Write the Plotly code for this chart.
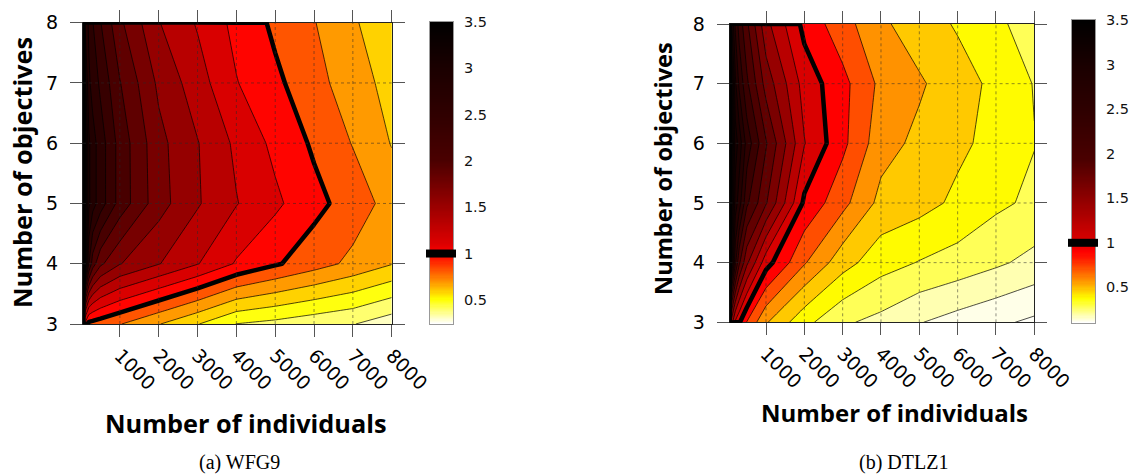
import numpy as np
import plotly.graph_objects as go

W, H = 1135, 475

# ---------------- data ----------------
x_individuals = [50, 100, 200, 300, 500, 1000, 2000, 3000, 4000, 5000, 6000, 7000, 8000]
y_objectives = [3, 4, 5, 6, 7, 8]

# rows: objectives 3..8, columns: individuals as above
wfg9_z = [
    [3.5, 1.08, 0.97, 0.965, 0.95, 0.905, 0.805, 0.705, 0.598, 0.57, 0.535, 0.505, 0.44],
    [3.5, 2.21, 1.805, 1.65, 1.52, 1.405, 1.305, 1.205, 1.09, 1.012, 0.944, 0.875, 0.805],
    [3.5, 2.31, 2.02, 1.94, 1.85, 1.66, 1.44, 1.31, 1.205, 1.12, 1.03, 0.955, 0.86],
    [3.5, 2.31, 2.02, 1.94, 1.85, 1.66, 1.43, 1.305, 1.18, 1.075, 0.985, 0.895, 0.795],
    [3.5, 2.15, 1.92, 1.86, 1.78, 1.605, 1.38, 1.245, 1.105, 1.02, 0.94, 0.84, 0.77],
    [3.5, 1.995, 1.88, 1.805, 1.705, 1.52, 1.305, 1.19, 1.07, 0.98, 0.905, 0.81, 0.745],
]
dtlz1_z = [
    [3.5, 1.25, 1.08, 1.012, 0.895, 0.71, 0.53, 0.415, 0.37, 0.305, 0.26, 0.22, 0.18],
    [3.5, 2.05, 1.72, 1.52, 1.32, 1.04, 0.81, 0.64, 0.54, 0.495, 0.46, 0.417, 0.37],
    [3.5, 2.25, 1.95, 1.85, 1.62, 1.41, 0.98, 0.83, 0.67, 0.635, 0.58, 0.52, 0.48],
    [3.5, 2.35, 2.05, 1.96, 1.76, 1.51, 1.105, 0.925, 0.74, 0.675, 0.62, 0.57, 0.503],
    [3.5, 2.25, 1.92, 1.78, 1.62, 1.36, 1.06, 0.93, 0.776, 0.714, 0.64, 0.577, 0.495],
    [3.5, 2.02, 1.78, 1.66, 1.52, 1.23, 0.97, 0.84, 0.72, 0.645, 0.59, 0.52, 0.455],
]
wfg9_range = [0.24, 3.5]
dtlz1_range = [0.1, 3.5]
highlight_level = 1.0

x_tick_vals = [1000, 2000, 3000, 4000, 5000, 6000, 7000, 8000]
x_tick_text = ["1000", "2000", "3000", "4000", "5000", "6000", "7000", "8000"]
y_tick_vals = [3, 4, 5, 6, 7, 8]
cb_tick_vals = [0.5, 1, 1.5, 2, 2.5, 3, 3.5]
cb_tick_text = ["0.5", "1", "1.5", "2", "2.5", "3", "3.5"]

x_title = "Number of individuals"
y_title = "Number of objectives"
captions = ["(a) WFG9", "(b) DTLZ1"]

lev_start, lev_end, lev_step = 0.1, 3.4, 0.1

# ---------------- styling helpers ----------------
BAND_PALETTE = [(0.0, '#ffffff'), (0.044, '#ffffe8'), (0.074, '#ffffb0'), (0.10, '#ffff60'),
                (0.13, '#ffff00'), (0.16, '#ffcc00'), (0.19, '#ff9500'), (0.22, '#ff5000'),
                (0.25, '#ff0000'), (0.28, '#d80000'), (0.31, '#b80000'), (0.34, '#950000'),
                (0.37, '#780000'), (0.40, '#600000'), (0.43, '#4a0000'), (0.46, '#380000'),
                (0.50, '#280000'), (0.55, '#1a0000'), (0.65, '#0c0000'), (1.0, '#000000')]
CB_PALETTE = [(0.0, '#ffffff'), (0.08, '#ffff00'), (0.14, '#ff9000'), (0.215, '#ff1500'),
              (0.235, '#ff0000'), (0.26, '#e00000'), (0.39, '#990000'), (0.54, '#4a0000'),
              (0.69, '#300000'), (0.85, '#1a0000'), (1.0, '#000000')]


def hex_rgb(h):
    return tuple(int(h[i:i + 2], 16) for i in (1, 3, 5))


def pal(stops, f):
    f = min(max(f, 0.0), 1.0)
    for (f0, c0), (f1, c1) in zip(stops[:-1], stops[1:]):
        if f <= f1:
            t = 0 if f1 == f0 else (f - f0) / (f1 - f0)
            a, b = hex_rgb(c0), hex_rgb(c1)
            return 'rgb(%d,%d,%d)' % tuple(round(a[i] + (b[i] - a[i]) * t) for i in range(3))
    return stops[-1][1]


n_lev = int(round((lev_end - lev_start) / lev_step)) + 1


def band_colorscale(vr):
    vmin, vmax = vr
    cs = []
    for j in range(n_lev + 1):
        mid = lev_start + (j - 0.5) * lev_step
        cs.append([j / n_lev, pal(BAND_PALETTE, (mid - vmin) / (vmax - vmin))])
    return cs


cb_colorscale = [[f, c] for f, c in CB_PALETTE]


def padded(z):
    xs = [x_individuals[0] - 1] + x_individuals + [x_individuals[-1] + 1]
    ys = [y_objectives[0] - 0.01] + y_objectives + [y_objectives[-1] + 0.01]
    zz = [[0.0] * len(xs)]
    for row in z:
        zz.append([0.0] + list(row) + [0.0])
    zz.append([0.0] * len(xs))
    return xs, ys, zz


# ---------------- geometry (pixels) ----------------
panels = [
    dict(z=wfg9_z, vr=wfg9_range, px=(83, 391.7), py=(324, 22.7), cbx=(430, 453), cby=(324, 21.7),
         xt=(245, 423), yt=(22, 173), cap=239, xts=25.3, yts=25.3),
    dict(z=dtlz1_z, vr=dtlz1_range, px=(729.6, 1034.3), py=(322.3, 24), cbx=(1072, 1095), cby=(323, 20),
         xt=(894.5, 412.5), yt=(662.5, 168.5), cap=903.5, xts=24, yts=23.6),
]

fig = go.Figure()
layout = dict(width=W, height=H, autosize=False,
              margin=dict(l=0, r=0, t=0, b=0, pad=0, autoexpand=False),
              paper_bgcolor='white', plot_bgcolor='rgba(0,0,0,0)', showlegend=False)
shapes, annotations = [], []

xr = [x_individuals[0], x_individuals[-1]]
yr = [y_objectives[0], y_objectives[-1]]
tickfont = dict(family='DejaVu Sans', size=19, color='black')

for k, p in enumerate(panels):
    n = 3 * k
    ax_main, ax_ovl, ax_cb = n + 1, n + 2, n + 3
    def nm(i):
        return '' if i == 1 else str(i)
    xd = [p['px'][0] / W, p['px'][1] / W]
    yd = [(H - p['py'][0]) / H, (H - p['py'][1]) / H]

    # filled contours
    fig.add_trace(go.Contour(
        x=x_individuals, y=y_objectives, z=p['z'], autocontour=False,
        contours=dict(start=lev_start, end=lev_end + 0.005, size=lev_step, coloring='fill', showlines=True),
        line=dict(color='black', width=0.7, smoothing=0),
        colorscale=band_colorscale(p['vr']), showscale=False, hoverinfo='skip',
        xaxis='x' + nm(ax_main), yaxis='y' + nm(ax_main)))

    # thick level-1 boundary on an overlay subplot (not clipped at borders)
    xs, ys, zz = padded(p['z'])
    ext = 8.0
    xppu = (xd[1] - xd[0]) * W / (xr[1] - xr[0])
    yppu = (yd[1] - yd[0]) * H / (yr[1] - yr[0])
    fig.add_trace(go.Contour(
        x=xs, y=ys, z=zz, autocontour=False,
        contours=dict(start=highlight_level, end=highlight_level, size=1, coloring='none', showlines=True),
        line=dict(color='black', width=4.5, smoothing=0), showscale=False, hoverinfo='skip',
        xaxis='x' + nm(ax_ovl), yaxis='y' + nm(ax_ovl)))

    # colour bar
    vmin, vmax = p['vr']
    vals = np.linspace(vmin, vmax, 260)
    fig.add_trace(go.Heatmap(z=[[v] for v in vals], x=[0.5], y=vals, colorscale=cb_colorscale,
                             zmin=vmin, zmax=vmax, showscale=False, hoverinfo='skip',
                             xaxis='x' + nm(ax_cb), yaxis='y' + nm(ax_cb)))

    layout['xaxis' + nm(ax_main)] = dict(
        domain=xd, range=xr, anchor='y' + nm(ax_main), tickvals=x_tick_vals, ticktext=x_tick_text,
        tickangle=45, ticks='outside', ticklen=12, tickwidth=1, tickcolor='#555', mirror='ticks',
        showline=True, linecolor='#222', linewidth=1, showgrid=False, zeroline=False,
        tickfont=tickfont, layer='above traces', automargin=False)
    layout['yaxis' + nm(ax_main)] = dict(
        domain=yd, range=yr, anchor='x' + nm(ax_main), tickvals=y_tick_vals,
        ticks='outside', ticklen=12, tickwidth=1, tickcolor='#555', mirror='ticks',
        showline=True, linecolor='#222', linewidth=1, showgrid=False, zeroline=False,
        tickfont=tickfont, ticklabelstandoff=8, layer='above traces', automargin=False)

    exd = ext / W
    eyd = ext / H
    layout['xaxis' + nm(ax_ovl)] = dict(
        domain=[xd[0] - exd, xd[1] + exd], range=[xr[0] - ext / xppu, xr[1] + ext / xppu],
        anchor='y' + nm(ax_ovl), visible=False, automargin=False)
    layout['yaxis' + nm(ax_ovl)] = dict(
        domain=[yd[0] - eyd, yd[1] + eyd], range=[yr[0] - ext / yppu, yr[1] + ext / yppu],
        anchor='x' + nm(ax_ovl), visible=False, automargin=False)

    cxd = [p['cbx'][0] / W, p['cbx'][1] / W]
    cyd = [(H - p['cby'][0]) / H, (H - p['cby'][1]) / H]
    layout['xaxis' + nm(ax_cb)] = dict(domain=cxd, range=[0, 1], anchor='y' + nm(ax_cb),
                                       showticklabels=False, ticks='', showgrid=False, zeroline=False,
                                       showline=True, mirror=True, linecolor='#999', linewidth=1,
                                       automargin=False)
    layout['yaxis' + nm(ax_cb)] = dict(domain=cyd, range=[vmin, vmax], anchor='x' + nm(ax_cb), side='right',
                                       tickvals=cb_tick_vals, ticktext=cb_tick_text, ticks='outside',
                                       ticklen=7, tickcolor='rgba(0,0,0,0)', showgrid=False, zeroline=False,
                                       showline=True, mirror=True, linecolor='#999', linewidth=1,
                                       tickfont=dict(family='DejaVu Sans', size=14.5, color='#111'),
                                       automargin=False)

    # marker of the highlighted level on the colour bar
    yc = cyd[0] + (highlight_level - vmin) / (vmax - vmin) * (cyd[1] - cyd[0])
    shapes.append(dict(type='rect', xref='paper', yref='paper', x0=cxd[0] - 4 / W, x1=cxd[1] + 3 / W,
                       y0=yc - 4 / H, y1=yc + 4 / H, fillcolor='black', line=dict(width=0), layer='above'))

    # dashed grid on top of the fills
    grid_line = dict(color='rgba(40,40,40,0.65)', width=0.8, dash='3px,3px')
    for xv in x_tick_vals[:-1]:
        shapes.append(dict(type='line', xref='x' + nm(ax_main), yref='y' + nm(ax_main) + ' domain',
                           x0=xv, x1=xv, y0=0, y1=1, line=grid_line, layer='above'))
    for yv in y_tick_vals[1:-1]:
        shapes.append(dict(type='line', xref='x' + nm(ax_main) + ' domain', yref='y' + nm(ax_main),
                           x0=0, x1=1, y0=yv, y1=yv, line=grid_line, layer='above'))

    annotations.append(dict(text=x_title, xref='paper', yref='paper', x=p['xt'][0] / W,
                            y=(H - p['xt'][1]) / H, xanchor='center', yanchor='middle',
                            showarrow=False,
                            font=dict(family='Open Sans', size=p['xts'], color='black', weight='bold')))
    annotations.append(dict(text=y_title, xref='paper', yref='paper', x=p['yt'][0] / W,
                            y=(H - p['yt'][1]) / H, xanchor='center', yanchor='middle',
                            showarrow=False, textangle=-90,
                            font=dict(family='Open Sans', size=p['yts'], color='black', weight='bold')))
    annotations.append(dict(text=captions[k], xref='paper', yref='paper', x=p['cap'] / W,
                            y=0, xanchor='center', yanchor='bottom', borderpad=0,
                            showarrow=False, font=dict(family='Liberation Serif', size=20, color='black')))

layout['shapes'] = shapes
layout['annotations'] = annotations
fig.update_layout(**layout)
fig.write_html("out.html")
